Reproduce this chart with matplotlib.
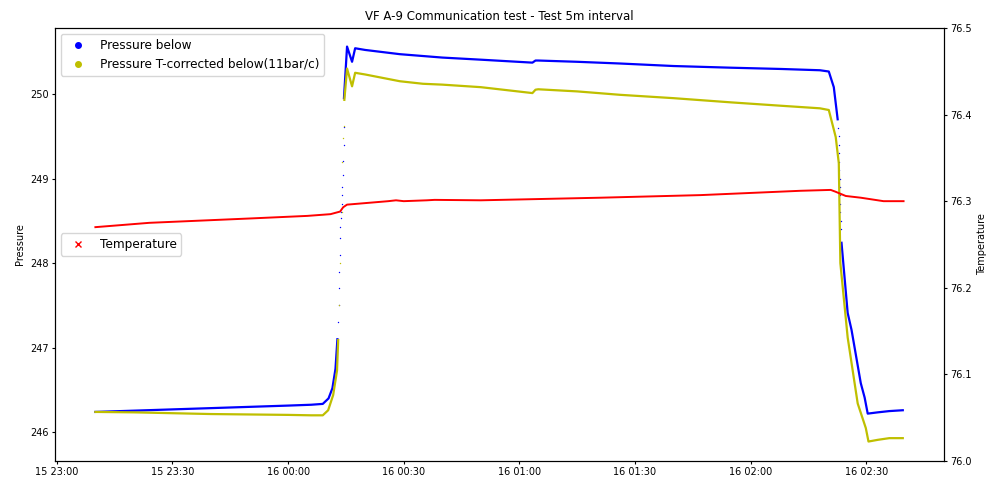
import numpy as np
import matplotlib
matplotlib.use('Agg')
import matplotlib.pyplot as plt
import matplotlib.dates as mdates
from matplotlib.lines import Line2D
from datetime import datetime

nan = float('nan')

# minutes after 15 23:00
blue_min = [10, 20, 30, 40, 50, 60, 66, 69, 70.5, 71.5, 72.3, 72.8, nan,
            74.5, 75.3, 76.6, 77.4, 80, 89, 100, 110, 123.4, 124.2, 124.9, 135, 146,
            160, 175, 188, 198, 200.3, 201.6, 202.6, nan,
            203.6, 205.2, 206.2, 208.6, 209.6, 210.4, 213, 216, 219.5]
blue_p = [246.24, 246.255, 246.27, 246.285, 246.30, 246.315, 246.325, 246.335, 246.40, 246.52, 246.75, 247.1, nan,
          249.95, 250.56, 250.38, 250.54, 250.52, 250.47, 250.43, 250.405, 250.37, 250.395, 250.395, 250.38, 250.36,
          250.33, 250.31, 250.295, 250.28, 250.265, 250.08, 249.7, nan,
          248.24, 247.41, 247.21, 246.58, 246.41, 246.22, 246.235, 246.25, 246.26]

# sparse samples during the fast rise / drop
blue_dot_min = [73.0, 73.1, 73.2, 73.3, 73.4, 73.5, 73.6, 73.7, 73.8, 73.9, 74.0, 74.1, 74.2, 74.3, 74.4, 74.45,
                202.8, 202.85, 202.9, 202.95, 203.0, 203.05, 203.1, 203.15, 203.2, 203.25, 203.3, 203.35, 203.4]
blue_dot_p = [247.3, 247.5, 247.7, 247.9, 248.1, 248.3, 248.43, 248.53, 248.6, 248.7, 248.8, 248.9, 249.04, 249.21, 249.4, 249.61,
              249.6, 249.5, 249.4, 249.3, 249.2, 249.1, 249.0, 248.9, 248.8, 248.7, 248.6, 248.5, 248.4]

yel_min = [10, 20, 30, 40, 50, 60, 66, 69, 70.4, 71.7, 72.7, 73.0, nan,
           74.6, 75.3, 76.6, 77.4, 80, 89, 95, 100, 110, 123.4, 124.2, 124.9, 135, 146,
           160, 175, 188, 198, 200.3, 202.1, 202.9, 203.3, 205.2, 207.8, 209.9, 210.6, 213, 216, 219.5]
yel_p = [246.24, 246.235, 246.225, 246.215, 246.21, 246.205, 246.20, 246.20, 246.26, 246.44, 246.73, 247.09, nan,
         249.93, 250.30, 250.09, 250.25, 250.23, 250.15, 250.12, 250.11, 250.08, 250.01, 250.05, 250.055, 250.03, 249.99,
         249.95, 249.90, 249.86, 249.83, 249.81, 249.49, 249.18, 248.0, 247.12, 246.34, 246.05, 245.89, 245.91, 245.93, 245.93]

yel_dot_min = [73.3, 73.6, 73.9, 74.1, 74.3, 74.45]
yel_dot_p = [247.5, 248.0, 248.6, 249.2, 249.48, 249.62]

red_min = [10, 24, 50, 65, 71, 73.5, 74.3, 75.3, 86, 88, 90, 96, 98, 110, 141, 167, 193, 200.8, 202, 204.7, 208.6, 214.5, 219.7]
red_t = [76.270, 76.275, 76.280, 76.283, 76.285, 76.288, 76.293, 76.296, 76.300, 76.301, 76.300, 76.301, 76.3015,
         76.301, 76.304, 76.307, 76.312, 76.313, 76.311, 76.306, 76.304, 76.300, 76.300]

base = mdates.date2num(datetime(2018, 1, 15, 23, 0))

def to_t(m):
    return base + np.array(m, dtype=float) / 1440.0

fig = plt.figure(figsize=(9.87, 4.78), dpi=100)
ax = fig.add_axes([0.0557, 0.0356, 0.9007, 0.9059])
ax2 = ax.twinx()

ax.plot(to_t(blue_min), blue_p, color='b', lw=1.6)
ax.plot(to_t(blue_dot_min), blue_dot_p, 'o', color='b', ms=1.0, mew=0)
ax.plot(to_t(yel_min), yel_p, color='y', lw=1.6)
ax.plot(to_t(yel_dot_min), yel_dot_p, 'o', color='y', ms=1.0, mew=0)
ax2.plot(to_t(red_min), red_t, color='r', lw=1.4)

ax.set_ylim(245.66, 250.78)
ax2.set_ylim(76.0, 76.5)
ax.set_ylabel('Pressure', fontsize=7)
ax2.set_ylabel('Temperature', fontsize=7)
ax.set_title('VF A-9 Communication test - Test 5m interval', fontsize=8.5)

ax.xaxis.set_major_locator(mdates.MinuteLocator(byminute=[0, 30]))
ax.xaxis.set_major_formatter(mdates.DateFormatter('%d %H:%M'))
for a in (ax, ax2):
    a.tick_params(labelsize=7, length=2.5, pad=2)

h1 = [Line2D([], [], ls='', marker='o', color='b', ms=4),
      Line2D([], [], ls='', marker='o', color='y', ms=4)]
ax.legend(h1, ['Pressure below', 'Pressure T-corrected below(11bar/c)'], loc='upper left', fontsize=8.7)
h2 = [Line2D([], [], ls='', marker='x', color='r', ms=4)]
ax2.legend(h2, ['Temperature'], loc='center left', fontsize=8.7)

plt.savefig('out.png', dpi=100)
